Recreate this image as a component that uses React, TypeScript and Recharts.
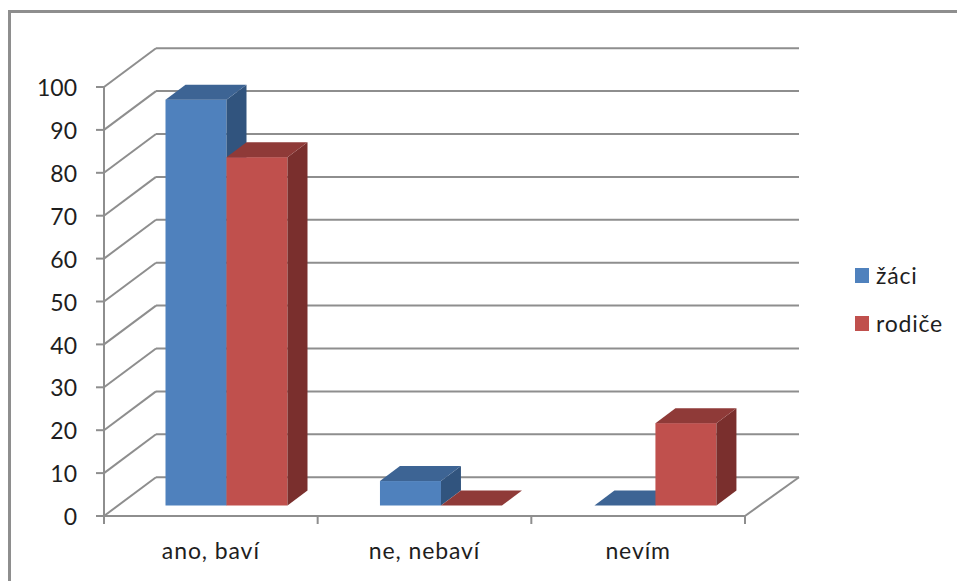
import React from 'react';
import { Bar, BarChart, CartesianGrid, Legend, XAxis, YAxis } from 'recharts';

const categories = ['ano, baví', 'ne, nebaví', 'nevím'];
const zaci = [94.6, 5.7, 0];
const rodice = [81.2, 0, 19.2];
const yTicks = [0, 10, 20, 30, 40, 50, 60, 70, 80, 90, 100];

const data = categories.map((name, i) => ({ name, zaci: zaci[i], rodice: rodice[i] }));

const WIDTH = 957;
const HEIGHT = 581;
const MARGIN = { top: 87, right: 212, bottom: 35, left: 44 };
const Y_AXIS_WIDTH = 60;
const X_AXIS_HEIGHT = 30;
const BAND = (WIDTH - MARGIN.left - Y_AXIS_WIDTH - MARGIN.right) / categories.length;

// depth of the fake 3D room and of the columns standing in it
const WALL_DX = 52;
const WALL_DY = 38.8;
const BAR_DX = 20;
const BAR_DY = 15;
const BAR_SHIFT_X = 15.5;
const BAR_SHIFT_Y = 10.5;
const BAR_SPREAD = 0.8;

const AXIS_COLOR = '#8e8e8e';
const TEXT_COLOR = '#1e1e1e';
const FONT = 'Lato, sans-serif';

const pts = (list: number[][]) => list.map((p) => p.join(',')).join(' ');

const WallLine = (props: any) => {
  const { x1, x2, y1 } = props;
  const isFloor = y1 >= props.y + props.height - 1;
  return (
    <g fill="none" stroke={AXIS_COLOR}>
      <polyline
        points={pts([[x1, y1], [x1 + WALL_DX, y1 - WALL_DY]])}
        strokeWidth={2}
      />
      <polyline
        points={pts([[x1 + WALL_DX, y1 - WALL_DY], [x2 + WALL_DX + 2, y1 - WALL_DY]])}
        strokeWidth={2}
      />
      {isFloor && (
        <polyline
          points={pts([[x2, y1], [x2 + WALL_DX + 2, y1 - WALL_DY]])}
          strokeWidth={2}
        />
      )}
    </g>
  );
};

const makeColumn = (front: string, top: string, side: string) => (props: any) => {
  const { x, y, width, height, index } = props;
  const left = x + BAR_SHIFT_X + index * BAR_SPREAD;
  const right = left + width;
  const upper = y - BAR_SHIFT_Y;
  const lower = upper + height;
  return (
    <g>
      {height > 0 && <rect x={left} y={upper} width={width} height={height} fill={front} />}
      {height > 0 && (
        <polygon
          points={pts([
            [right, upper],
            [right + BAR_DX, upper - BAR_DY],
            [right + BAR_DX, lower - BAR_DY],
            [right, lower],
          ])}
          fill={side}
        />
      )}
      <polygon
        points={pts([
          [left, upper],
          [left + BAR_DX, upper - BAR_DY],
          [right + BAR_DX, upper - BAR_DY],
          [right, upper],
        ])}
        fill={top}
      />
    </g>
  );
};

const CategoryTick = (props: any) => {
  const { x, y, index, payload } = props;
  const half = BAND / 2;
  return (
    <g>
      <line x1={x - half} x2={x - half} y1={y - 8} y2={y} stroke={AXIS_COLOR} strokeWidth={2} />
      {index === categories.length - 1 && (
        <line x1={x + half} x2={x + half} y1={y - 8} y2={y} stroke={AXIS_COLOR} strokeWidth={2} />
      )}
      <text
        x={x}
        y={y + 35}
        textAnchor="middle"
        fill={TEXT_COLOR}
        fontSize={23}
        letterSpacing={0.9}
        fontFamily={FONT}
      >
        {payload.value}
      </text>
    </g>
  );
};

const SideLegend = ({ payload }: any) => (
  <div style={{ fontFamily: FONT, fontSize: 23, letterSpacing: 0.8, color: TEXT_COLOR }}>
    {(payload || []).map((item: any) => (
      <div key={item.value} style={{ display: 'flex', alignItems: 'center', height: 48 }}>
        <span
          style={{ width: 14, height: 15, marginRight: 7, background: item.color, display: 'inline-block' }}
        />
        <span>{item.value}</span>
      </div>
    ))}
  </div>
);

export default function App() {
  return (
    <div style={{ position: 'absolute', left: 0, top: 0, width: WIDTH, height: HEIGHT, overflow: 'hidden', background: '#fff' }}>
      {/* chart frame, runs off the right and bottom edge */}
      <div
        style={{
          position: 'absolute',
          left: 8,
          top: 10,
          right: 0,
          bottom: 0,
          borderLeft: `3px solid ${AXIS_COLOR}`,
          borderTop: `3px solid ${AXIS_COLOR}`,
        }}
      />
      <div style={{ position: 'absolute', left: 0, top: 0 }}>
        <BarChart width={WIDTH} height={HEIGHT} data={data} margin={MARGIN} barSize={61} barGap={0}>
          <CartesianGrid vertical={false} horizontal={(p: any) => <WallLine {...p} />} />
          <XAxis
            dataKey="name"
            height={X_AXIS_HEIGHT}
            stroke={AXIS_COLOR}
            strokeWidth={2}
            tickLine={false}
            tick={(p: any) => <CategoryTick {...p} />}
            interval={0}
          />
          <YAxis
            domain={[0, 100]}
            ticks={yTicks}
            interval={0}
            width={Y_AXIS_WIDTH}
            stroke={AXIS_COLOR}
            strokeWidth={2}
            tickSize={8}
            tickMargin={19}
            tick={{ fill: TEXT_COLOR, fontSize: 23, fontFamily: FONT, dy: 1 }}
          />
          <Legend
            layout="vertical"
            align="center"
            verticalAlign="middle"
            itemSorter={null}
            content={<SideLegend />}
            wrapperStyle={{ left: 855, top: 251, width: 100 }}
          />
          <Bar
            dataKey="zaci"
            name="žáci"
            fill="#4f81bd"
            isAnimationActive={false}
            shape={makeColumn('#4f81bd', '#3d6494', '#31547e')}
          />
          <Bar
            dataKey="rodice"
            name="rodiče"
            fill="#c0504d"
            isAnimationActive={false}
            shape={makeColumn('#c0504d', '#8f3a38', '#7a2f2d')}
          />
        </BarChart>
      </div>
    </div>
  );
}
